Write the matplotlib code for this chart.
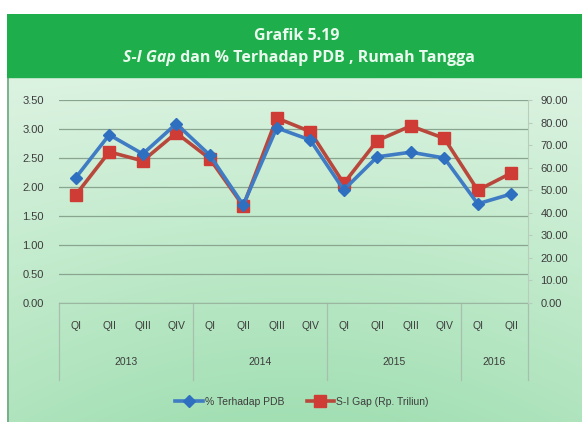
import numpy as np
import matplotlib
matplotlib.use("Agg")
import matplotlib.pyplot as plt
from matplotlib.patches import Rectangle
from matplotlib.colors import LinearSegmentedColormap
import matplotlib.transforms as mtransforms

quarters = ["QI", "QII", "QIII", "QIV", "QI", "QII", "QIII", "QIV",
            "QI", "QII", "QIII", "QIV", "QI", "QII"]
years = ["2013", "2014", "2015", "2016"]
year_counts = [4, 4, 4, 2]

pct_pdb = [2.16, 2.90, 2.57, 3.09, 2.55, 1.69, 3.02, 2.81,
           1.95, 2.52, 2.60, 2.50, 1.71, 1.88]
si_gap = [47.9, 67.0, 63.0, 75.4, 64.0, 43.0, 82.0, 76.0,
          53.0, 72.0, 78.5, 73.0, 50.0, 57.6]

W, H = 582, 422
fig = plt.figure(figsize=(W / 100, H / 100), dpi=100, facecolor="white")
plt.rcParams['font.family'] = ['Liberation Sans', 'DejaVu Sans']

# panel background with gradient (pale at top, greener at bottom)
bg = fig.add_axes([7 / W, 0, 1 - 7 / W, 1 - 14 / H])
bg.set_axis_off()
cmap = LinearSegmentedColormap.from_list("g", ["#e4f5e8", "#c3ebcd", "#a2dfb3"])
yy = np.linspace(0, 1, 200)[:, None]
xx = np.linspace(0, 1, 200)[None, :]
grad = yy * 0.8 + 0.2 * np.sin(np.pi * xx) * yy
bg.imshow(grad, cmap=cmap, aspect="auto", extent=[0, 1, 0, 1], origin="upper",
          vmin=0, vmax=1.0)
bg.set_xlim(0, 1)
bg.set_ylim(0, 1)
bg.plot([0.002, 0.002], [0, 1], color="#6fa680", lw=1.2)
hdr_h = (77 - 14) / (H - 14)
bg.add_patch(Rectangle((0, 1 - hdr_h), 1, hdr_h, color="#1fae4c", zorder=3))

# title
fig.text(297 / W, 1 - 36 / H, "Grafik 5.19", color="#eafaee", fontsize=11.5,
         fontweight="bold", ha="center", va="center", family="Open Sans")
renderer = fig.canvas.get_renderer()
t1 = fig.text(0, 1 - 58 / H, "S-I Gap", color="#eafaee", fontsize=11.5,
              fontweight="bold", style="italic", ha="left", va="center",
              family="Open Sans")
t2 = fig.text(0, 1 - 58 / H, " dan % Terhadap PDB , Rumah Tangga", color="#eafaee",
              fontsize=11.5, fontweight="bold", ha="left", va="center",
              family="Open Sans")
w1 = t1.get_window_extent(renderer).width
w2 = t2.get_window_extent(renderer).width
x0 = 299 - (w1 + w2) / 2
t1.set_x(x0 / W)
t2.set_x((x0 + w1) / W)

# main axes
ax = fig.add_axes([59 / W, 1 - 303 / H, (528 - 59) / W, (303 - 100) / H])
ax.set_facecolor("none")
x = np.arange(len(quarters))
ax.set_xlim(-0.5, len(quarters) - 0.5)
ax.set_ylim(0, 3.5)
ax.set_yticks(np.arange(0, 3.51, 0.5))
ax.set_yticklabels([f"{v:.2f}" for v in np.arange(0, 3.51, 0.5)])
ax.grid(axis="y", color="#8aa58f", lw=0.9)
ax.set_axisbelow(True)
for s in ["top", "left", "right"]:
    ax.spines[s].set_visible(False)
ax.spines["bottom"].set_color("#9bb7a0")
ax.tick_params(axis="y", length=0, pad=11, labelsize=8, labelcolor="#3c3c3c")
ax.set_xticks(x)
ax.set_xticklabels(quarters)
ax.tick_params(axis="x", length=0, pad=13, labelsize=7.5, labelcolor="#3c3c3c")

ax2 = ax.twinx()
ax2.set_ylim(0, 90)
ax2.set_yticks(np.arange(0, 91, 10))
ax2.set_yticklabels([f"{v:.2f}" for v in np.arange(0, 91, 10)])
for s in ["top", "left", "bottom"]:
    ax2.spines[s].set_visible(False)
ax2.spines["right"].set_color("#b8cdbb")
ax2.tick_params(axis="y", length=3, color="#b8cdbb", pad=6, labelsize=8,
                labelcolor="#3c3c3c")

l2, = ax2.plot(x, si_gap, color="#b9483c", lw=2.6, marker="s", ms=8.5,
               mfc="#cf3b35", mec="#cf3b35", zorder=3,
               label="S-I Gap (Rp. Triliun)")
l1, = ax2.plot(x, np.array(pct_pdb) * 90 / 3.5, color="#3f7cc4", lw=2.6,
               marker="D", ms=6.5, mfc="#2f6fc0", mec="#2f6fc0", zorder=4,
               label="% Terhadap PDB")

# year groups
trans = mtransforms.blended_transform_factory(ax.transData, ax.transAxes)
ybot = -(380 - 303) / (303 - 100)
start = -0.5
ax.plot([start, start], [0, ybot], transform=trans, color="#a9bfae", lw=0.9,
        clip_on=False)
for yr, n in zip(years, year_counts):
    end = start + n
    ax.plot([end, end], [0, ybot], transform=trans, color="#a9bfae", lw=0.9,
            clip_on=False)
    ax.text((start + end) / 2, -(362 - 303) / (303 - 100), yr, transform=trans,
            ha="center", va="center", fontsize=7.5, color="#3c3c3c")
    start = end

fig.legend(handles=[l1, l2], loc="center", bbox_to_anchor=(302 / W, 1 - 402 / H),
           ncol=2, frameon=False, fontsize=7.5, handlelength=2.6,
           columnspacing=2.2, handletextpad=0.2, labelcolor="#3c3c3c")

fig.savefig("out.png", dpi=100, facecolor="white")
